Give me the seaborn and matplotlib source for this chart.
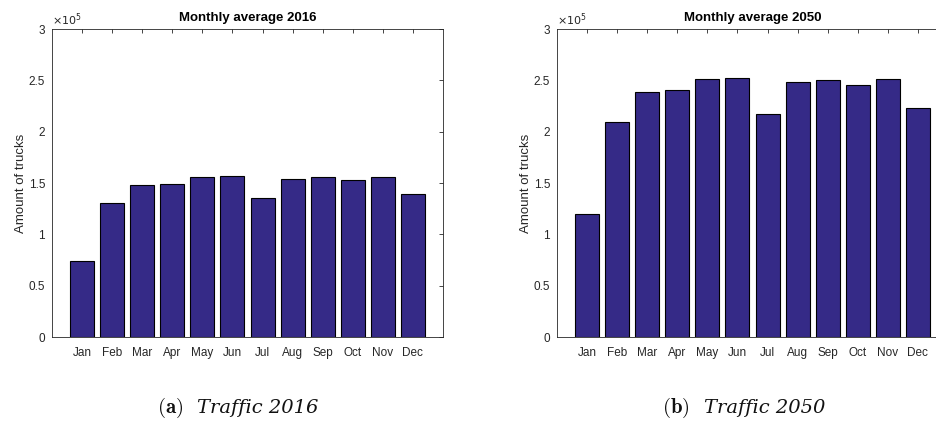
import matplotlib
matplotlib.use("Agg")
import matplotlib.pyplot as plt
import seaborn as sns
import pandas as pd
from matplotlib.ticker import FuncFormatter, MultipleLocator

months = ["Jan", "Feb", "Mar", "Apr", "May", "Jun", "Jul", "Aug", "Sep", "Oct", "Nov", "Dec"]
trucks_2016 = [74400, 131000, 148500, 149500, 156300, 157300, 135200, 153700, 156300, 152700, 156300, 138800]
trucks_2050 = [120200, 209900, 238200, 240800, 251200, 252200, 217100, 248000, 250600, 245000, 251200, 223300]
titles = ["Monthly average 2016", "Monthly average 2050"]
caption_labels = ["(a)", "(b)"]
caption_texts = ["Traffic 2016", "Traffic 2050"]

sns.set_theme(style="white")
plt.rcParams["font.family"] = ["Liberation Sans", "DejaVu Sans"]

fig = plt.figure(figsize=(9.36, 4.21), dpi=100)
axcol = (0.15, 0.15, 0.15)
bar_color = "#352A87"

positions = [[52 / 936, 1 - 337 / 421, 391 / 936, 308 / 421],
             [557 / 936, 1 - 337 / 421, 391 / 936, 308 / 421]]
caption_split = [190 / 936, 697 / 936]

for i, vals in enumerate([trucks_2016, trucks_2050]):
    ax = fig.add_axes(positions[i])
    df = pd.DataFrame({"month": months, "trucks": vals})
    sns.barplot(data=df, x="month", y="trucks", order=months, ax=ax,
                color=bar_color, saturation=1, width=0.8,
                edgecolor="black", linewidth=0.8)
    ax.set_xlim(-1, 12)
    ax.set_ylim(0, 300000)
    ax.yaxis.set_major_locator(MultipleLocator(50000))
    ax.yaxis.set_major_formatter(FuncFormatter(lambda v, p: f"{v / 1e5:g}"))
    ax.set_xlabel("")
    ax.set_ylabel("Amount of trucks", fontsize=9.5, color=axcol, labelpad=1)
    ax.set_title(titles[i], fontsize=9.5, fontweight="bold", color="black", pad=6)
    for s in ax.spines.values():
        s.set_color(axcol)
        s.set_linewidth(0.6)
        s.set_visible(True)
    ax.tick_params(axis="both", direction="in", length=3, width=0.6, colors=axcol,
                   labelsize=8.5, top=True, right=True, labelcolor=axcol)
    ax.tick_params(axis="x", pad=7)
    ax.tick_params(axis="y", pad=5)
    ax.text(0.0, 1.004, r"$\times10^{5}$", transform=ax.transAxes, fontsize=8,
            color=axcol, ha="left", va="bottom", math_fontfamily="dejavusans")
    fig.text(caption_split[i] - 7 / 936, 1 - 408 / 421, r"$\mathbf{" + caption_labels[i] + r"}$",
             fontsize=15, ha="right", va="center", math_fontfamily="cm", color="#111111")
    fig.text(caption_split[i] + 7 / 936, 1 - 408 / 421, caption_texts[i],
             fontsize=14, ha="left", va="center", family="DejaVu Serif", style="italic",
             color="#111111")

fig.savefig("out.png", dpi=100)
